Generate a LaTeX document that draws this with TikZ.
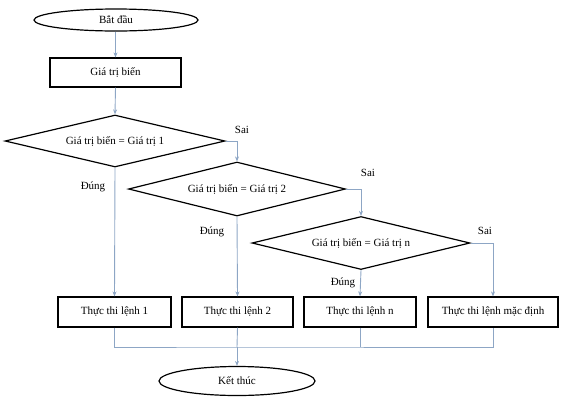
\documentclass[tikz,border=0pt]{standalone}
\usepackage{fontspec}
\setmainfont{Liberation Serif}
\usepackage{tikz}
\usetikzlibrary{shapes.geometric, arrows.meta, positioning}

\definecolor{flowblue}{RGB}{141,166,197}

\begin{document}
\begin{tikzpicture}[x=1pt, y=-1pt, font=\fontsize{11}{13}\selectfont,
    terminal/.style={draw, ellipse, line width=1.2pt, inner sep=0pt},
    stepbox/.style={draw, rectangle, line width=1.2pt, minimum height=30, inner sep=0pt},
    test/.style={draw, diamond, aspect=4, line width=1.2pt, inner sep=0pt},
    flow/.style={draw=flowblue, line width=0.9pt, -{Stealth[length=5pt, width=4pt]}},
    mergeline/.style={draw=flowblue, line width=0.9pt}]
            \useasboundingbox (0,0) rectangle (562,400);
            \node[terminal, minimum width=164, minimum height=22] (start) at (116,20) {Bắt đầu};
            \node[stepbox, minimum width=131, minimum height=29] (var) at (115.5,72.5) {Giá trị biến};
            \node[test, minimum width=220, minimum height=52] (test1) at (115,141) {Giá trị biến = Giá trị 1};
            \node[test, minimum width=217, minimum height=54] (test2) at (237,189) {Giá trị biến = Giá trị 2};
            \node[test, minimum width=218, minimum height=53] (testn) at (361,243) {Giá trị biến = Giá trị n};
            \node[stepbox, minimum width=113] (run1) at (114.5,312) {Thực thi lệnh 1};
            \node[stepbox, minimum width=111] (run2) at (237.5,312) {Thực thi lệnh 2};
            \node[stepbox, minimum width=112] (runn) at (360,312) {Thực thi lệnh n};
            \node[stepbox, minimum width=130] (rundef) at (493,312) {Thực thi lệnh mặc định};
            \node[terminal, minimum width=156, minimum height=29] (stop) at (237,381) {Kết thúc};
            \coordinate (merge) at (237,347);
            \draw[flow] (var.north |- start.south) -- (var.north);
            \draw[flow] (var.south) -- (test1.north);
            \draw[flow] (test1.east) -| (test2.north);
            \draw[flow] (test2.east) -| (testn.north);
            \draw[flow] (testn.east) -| (rundef.north);
            \draw[flow] (test1.south) -- (run1.north);
            \draw[flow] (test2.south) -- (run2.north);
            \draw[flow] (testn.south) -- (runn.north);
            \draw[mergeline] (run1.south) |- (merge) -| (rundef.south);
            \draw[mergeline] (run2.south) -- (merge);
            \draw[mergeline] (runn.south) -- (runn.south |- merge);
            \draw[flow] (merge) -- (stop.north);
            \node (sai1) at (242,130) {Sai};
            \node (sai2) at (368,173) {Sai};
            \node (sain) at (485,231) {Sai};
            \node (dung1) at (93,187) {Đúng};
            \node (dung2) at (212,232) {Đúng};
            \node (dungn) at (343,283) {Đúng};
        \end{tikzpicture}
\end{document}
